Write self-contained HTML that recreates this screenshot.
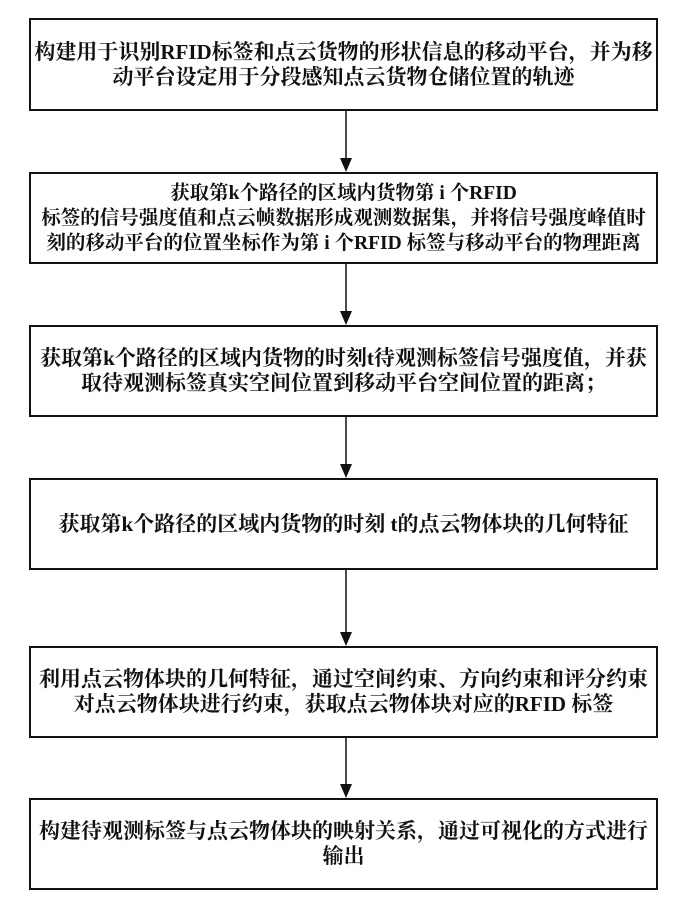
<!DOCTYPE html>
<html><head><meta charset="utf-8"><style>
body{margin:0;width:692px;height:915px;background:#fff;position:relative;overflow:hidden;font-family:"Liberation Serif","Noto Serif CJK SC",serif;font-weight:bold;color:#111}
.b{position:absolute;left:29px;width:629px;border:2px solid #111;box-sizing:border-box;display:flex;flex-direction:column;justify-content:center;align-items:center;font-size:21px;line-height:25px;text-align:center;white-space:nowrap}
</style></head><body>
<svg width="692" height="915" style="position:absolute;left:0;top:0">
<g stroke="#111" stroke-width="1.5">
<line x1="346" y1="111" x2="346" y2="160"/><line x1="346" y1="264" x2="346" y2="313"/><line x1="346" y1="417" x2="346" y2="466"/><line x1="346" y1="570" x2="346" y2="634"/><line x1="346" y1="738" x2="346" y2="786"/></g>
<g fill="#111"><polygon points="340,158 352,158 346,172"/><polygon points="340,311 352,311 346,325"/><polygon points="340,464 352,464 346,478"/><polygon points="340,632 352,632 346,646"/><polygon points="340,784 352,784 346,798"/></g>
</svg>
<div class="b" style="top:18px;height:93px"><div>构建用于识别RFID标签和点云货物的形状信息的移动平台，并为移</div><div>动平台设定用于分段感知点云货物仓储位置的轨迹</div></div>
<div class="b" style="top:172px;height:92px;font-size:19.5px"><div>获取第k个路径的区域内货物第 i 个RFID</div><div>标签的信号强度值和点云帧数据形成观测数据集，并将信号强度峰值时</div><div>刻的移动平台的位置坐标作为第 i 个RFID 标签与移动平台的物理距离</div></div>
<div class="b" style="top:325px;height:92px"><div>获取第k个路径的区域内货物的时刻t待观测标签信号强度值，并获</div><div>取待观测标签真实空间位置到移动平台空间位置的距离；</div></div>
<div class="b" style="top:478px;height:92px"><div>获取第k个路径的区域内货物的时刻 t的点云物体块的几何特征</div></div>
<div class="b" style="top:646px;height:92px"><div>利用点云物体块的几何特征，通过空间约束、方向约束和评分约束</div><div>对点云物体块进行约束，获取点云物体块对应的RFID 标签</div></div>
<div class="b" style="top:798px;height:92px"><div>构建待观测标签与点云物体块的映射关系，通过可视化的方式进行</div><div>输出</div></div>
</body></html>
